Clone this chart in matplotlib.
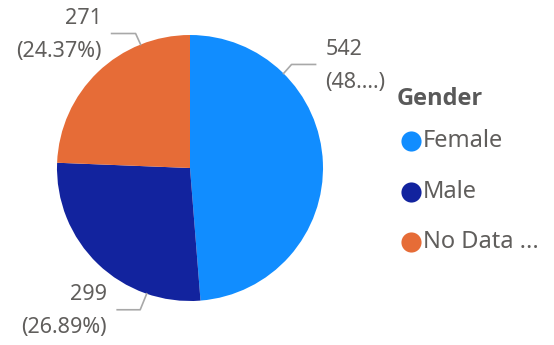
import numpy as np
import matplotlib.pyplot as plt

# Gender breakdown
labels = ['Female', 'Male', 'No Data ...']
counts = [542, 299, 271]
colors = ['#118DFF', '#12239E', '#E66C37']

plt.rcParams['font.family'] = ['Noto Sans', 'DejaVu Sans']
TEXT = '#605E5C'
LINE = '#A8A8A8'

fig = plt.figure(figsize=(5.54, 3.45), dpi=100)
ax = fig.add_axes([0, 0, 1, 1])

# pixel-style layout: y grows downward, so counterclock=True draws clockwise on screen
cx, cy, r = 190, 168, 133
ax.pie(counts, colors=colors, startangle=-90, counterclock=True,
       center=(cx, cy), radius=r, wedgeprops=dict(linewidth=0))
ax.set_xlim(0, 554)
ax.set_ylim(345, 0)
ax.set_aspect('equal')
ax.axis('off')

total = sum(counts)
pcts = [c / total * 100 for c in counts]

# leader lines: attach angle (deg clockwise from top), knee offset, horizontal run
leaders = [
    dict(ang=44.7, knee=(8, -9), run=24, side=1, pct_trunc=True),
    dict(ang=199.0, knee=(-6.5, 16), run=-23, side=-1, pct_trunc=False),
    dict(ang=338.2, knee=(-5, -11), run=-24, side=-1, pct_trunc=False),
]

for val, pct, ld in zip(counts, pcts, leaders):
    t = np.radians(ld['ang'])
    x0, y0 = cx + r * np.sin(t), cy - r * np.cos(t)
    x1, y1 = x0 + ld['knee'][0], y0 + ld['knee'][1]
    x2 = x1 + ld['run']
    ax.plot([x0, x1, x2], [y0, y1, y1], color=LINE, lw=1.2, clip_on=False)
    ptxt = f'({pct:.2f}%)'
    if ld['pct_trunc']:
        ptxt = ptxt[:4] + '...)'
    tx = x2 + 10 * ld['side']
    ha = 'left' if ld['side'] > 0 else 'right'
    ax.text(tx, y1 - 15, f'{val}', ha=ha, va='center', fontsize=15.5, color=TEXT)
    ax.text(tx, y1 + 18, ptxt, ha=ha, va='center', fontsize=15.5, color=TEXT)

# legend
ax.text(397, 99, 'Gender', ha='left', va='center', fontsize=17,
        fontweight='bold', family=['Open Sans', 'DejaVu Sans'], color='#595959')
for i, (lab, col) in enumerate(zip(labels, colors)):
    ly = 141 + i * 50.5
    ax.plot([411], [ly], 'o', ms=14.5, color=col, mec='none', clip_on=False)
    ax.text(423, ly, lab, ha='left', va='center', fontsize=17, color=TEXT)

fig.savefig('out.png', dpi=100)
